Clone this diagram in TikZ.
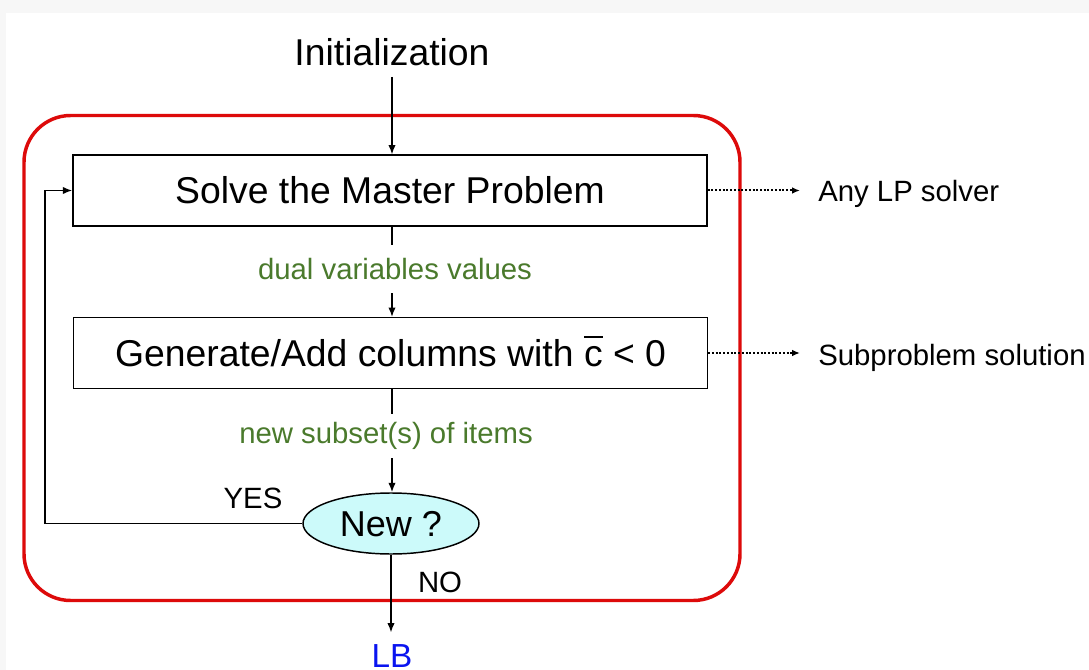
\documentclass[tikz,border=0pt]{standalone}
\usepackage{fontspec}
\setmainfont{Liberation Sans}
\usetikzlibrary{arrows.meta,shapes.geometric,calc}
\definecolor{framered}{HTML}{DD0A0A}
\definecolor{labelgreen}{HTML}{4A7A2C}
\definecolor{bubble}{HTML}{CCFAFA}
\definecolor{edgegray}{HTML}{F7F7F7}
\definecolor{lbblue}{HTML}{0A14F0}
\newcommand\cbarred{\leavevmode\rlap{\rule[0.76em]{0.5em}{0.06em}}c}
\begin{document}
\begin{tikzpicture}[x=0.75pt,y=-0.75pt,
  big/.style={font=\fontsize{28}{32}\selectfont},
  small/.style={font=\fontsize{22}{26}\selectfont},
  stepbox/.style={draw,line width=1.1pt,minimum width=475.5pt,minimum height=53pt,inner sep=0pt,text height=20.2pt,text depth=0pt,big},
  flow/.style={line width=1.1pt,-{Latex[length=7pt,width=5.5pt]}},
  plain/.style={line width=1.1pt},
  note/.style={line width=1.5pt,dash pattern=on 1.5pt off 1.3pt,-{Latex[length=6pt,width=5pt]}},
  side/.style={small,anchor=west,inner xsep=13.5pt,inner ysep=0pt,text height=15.8pt,text depth=0pt},
  greenlbl/.style={small,text=labelgreen,inner xsep=2pt,text height=16pt}
]
\fill[edgegray] (0,0) rectangle (1089,670);
\fill[white] (6,13) rectangle (1089,670);
\useasboundingbox (0,0) rectangle (1089,670);

% red frame
\draw[framered,line width=2.6pt,rounded corners=35pt] (24,115.5) rectangle (740,600.5);

% nodes
\node[big,anchor=base,inner xsep=0pt,inner ysep=8pt,text depth=0pt] (init) at (392,66) {Initialization};
\node[stepbox] (b1) at (390,190.5) {Solve the Master Problem};
\node[greenlbl,inner ysep=10pt,text depth=0pt] (dual) at (395,269) {dual variables values};
\node[stepbox] (b2) at (390.5,353) {Generate/Add columns with \cbarred{} < 0};
\node[greenlbl,inner ysep=6pt,text depth=4.6pt] (sub) at (386,436) {new subset(s) of items};
\node[ellipse,draw,line width=1.1pt,fill=bubble,minimum width=132pt,minimum height=45.75pt,inner sep=0pt,text height=19.3pt,text depth=0pt,font=\fontsize{27}{30}\selectfont] (newq) at (391,523.5) {New ?};
\node[small,anchor=base,inner sep=0pt] (yes) at (253,508) {YES};
\node[small,anchor=base,inner sep=0pt] (no) at (440,592) {NO};
\node[font=\fontsize{25}{30}\selectfont,text=lbblue,anchor=base,inner xsep=0pt,inner ysep=7.5pt,text height=18.2pt,text depth=0pt] (lb) at (392,667) {LB};
\node[side] (anylp) at (800,190.5) {Any LP solver};
\node[side] (subsol) at (800,355) {Subproblem solution};
\coordinate (loop) at (45,523.5);

% connectors
\draw[flow] (init.south) -- (init.south |- b1.north);
\draw[plain] (init.south |- b1.south) -- (init.south |- dual.north);
\draw[flow] (init.south |- dual.south) -- (init.south |- b2.north);
\draw[plain] (init.south |- b2.south) -- (init.south |- sub.north);
\draw[flow] (init.south |- sub.south) -- (init.south |- newq.north);
\draw[flow] (newq.west) -- (loop) |- (b1.west);
\draw[flow] (newq.south) -- (newq.south |- lb.north);
\draw[note] (b1.east) -- (anylp.west);
\draw[note] (b2.east) -- (b2.east -| subsol.west);
\end{tikzpicture}
\end{document}
